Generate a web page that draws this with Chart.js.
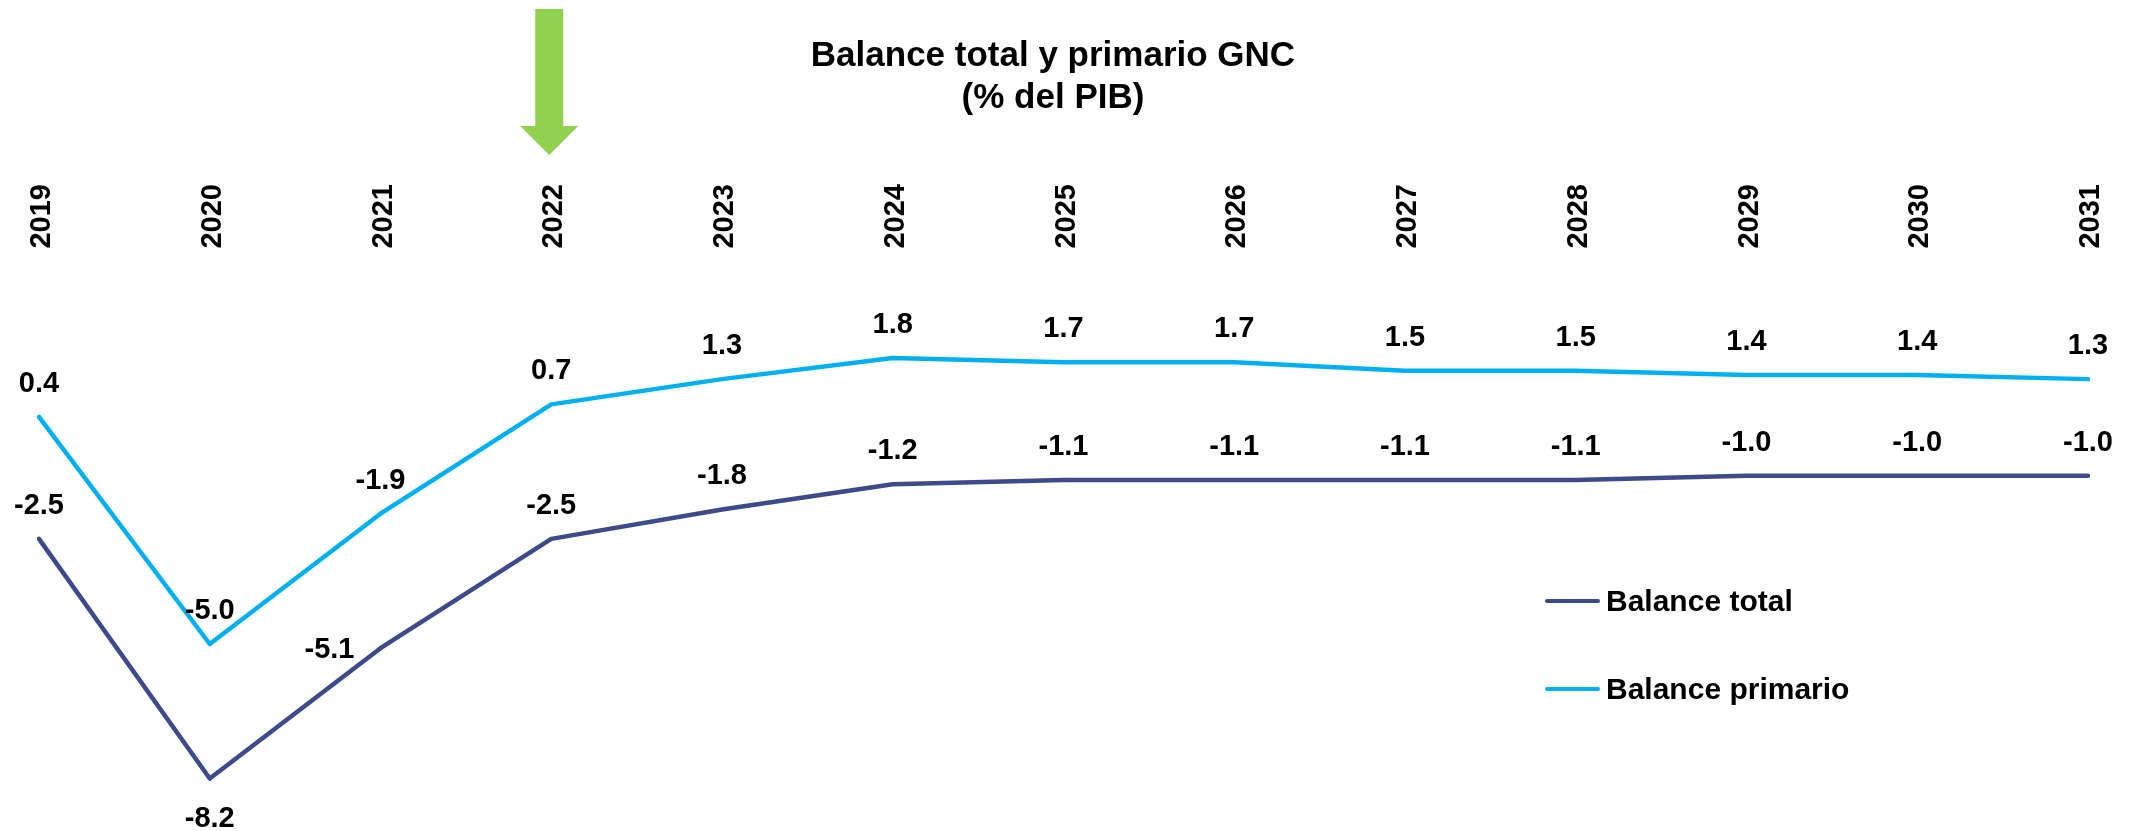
<!DOCTYPE html>
<html lang="es">
<head>
  <meta charset="UTF-8" />
  <title>Balance total y primario GNC</title>
  <script src="https://cdn.jsdelivr.net/npm/chart.js"></script>
  <style>
    body {
      margin: 0;
      padding: 0;
      background: white;
      font-family: "Liberation Sans", Arial, sans-serif;
    }
    .wrap {
      position: relative;
      width: 2136px;
      height: 831px;
    }
    .title {
      position: absolute;
      left: 0;
      top: 33px;
      width: 2106px;
      text-align: center;
      font-size: 35px;
      font-weight: bold;
      line-height: 42px;
      color: black;
    }
    .legend {
      position: absolute;
      left: 1545px;
      top: 580px;
      font-size: 30px;
      font-weight: bold;
      color: black;
    }
    .legend div {
      display: flex;
      align-items: center;
      height: 42px;
      margin-bottom: 46px;
    }
    .legend span.swatch {
      display: inline-block;
      width: 55px;
      height: 4.5px;
      border-radius: 3px;
      margin-right: 6px;
    }
  </style>
</head>
<body>

<div class="wrap">
  <canvas id="balanceChart"></canvas>
  <div class="title">Balance total y primario GNC<br>(% del PIB)</div>
  <div class="legend">
    <div><span class="swatch" style="background:#3D4A8C"></span>Balance total</div>
    <div><span class="swatch" style="background:#00B0F0"></span>Balance primario</div>
  </div>
</div>

<script>
const years = ["2019", "2020", "2021", "2022", "2023", "2024", "2025", "2026", "2027", "2028", "2029", "2030", "2031"];
const balanceTotal = [-2.5, -8.2, -5.1, -2.5, -1.8, -1.2, -1.1, -1.1, -1.1, -1.1, -1.0, -1.0, -1.0];
const balancePrimario = [0.4, -5.0, -1.9, 0.7, 1.3, 1.8, 1.7, 1.7, 1.5, 1.5, 1.4, 1.4, 1.3];
const markedYear = "2022";

// where each value label sits relative to its point
const totalLabelPos = ["top", "bottom", "left", "top", "top", "top", "top", "top", "top", "top", "top", "top", "top"];
const primarioLabelPos = years.map(() => "top");

const FONT = '"Liberation Sans", Arial, sans-serif';

const valueLabels = {
  id: "valueLabels",
  afterDatasetsDraw(chart) {
    const ctx = chart.ctx;
    ctx.save();
    ctx.font = "bold 29px " + FONT;
    ctx.fillStyle = "#000";
    ctx.textBaseline = "alphabetic";
    chart.data.datasets.forEach((ds, i) => {
      const meta = chart.getDatasetMeta(i);
      meta.data.forEach((pt, j) => {
        const txt = ds.data[j].toFixed(1);
        const pos = ds.labelPos[j];
        if (pos === "bottom") {
          ctx.textAlign = "center";
          ctx.fillText(txt, pt.x, pt.y + 48);
        } else if (pos === "left") {
          ctx.textAlign = "right";
          ctx.fillText(txt, pt.x - 26, pt.y + 10);
        } else {
          ctx.textAlign = "center";
          ctx.fillText(txt, pt.x, pt.y - 25);
        }
      });
    });
    ctx.restore();
  }
};

// green arrow pointing at the marked year
const yearArrow = {
  id: "yearArrow",
  afterDraw(chart) {
    const x = chart.scales.x.getPixelForValue(years.indexOf(markedYear)) - 2;
    const ctx = chart.ctx;
    ctx.save();
    ctx.fillStyle = "#92D050";
    ctx.beginPath();
    ctx.moveTo(x - 14, 9);
    ctx.lineTo(x + 14, 9);
    ctx.lineTo(x + 14, 126);
    ctx.lineTo(x + 29, 126);
    ctx.lineTo(x, 155);
    ctx.lineTo(x - 29, 126);
    ctx.lineTo(x - 14, 126);
    ctx.closePath();
    ctx.fill();
    ctx.restore();
  }
};

const ctx = document.getElementById("balanceChart").getContext("2d");
new Chart(ctx, {
  type: "line",
  data: {
    labels: years,
    datasets: [
      {
        label: "Balance total",
        data: balanceTotal,
        labelPos: totalLabelPos,
        borderColor: "#3D4A8C",
        borderWidth: 4.5,
        borderCapStyle: "round",
        borderJoinStyle: "round",
        pointRadius: 0,
        tension: 0,
        fill: false
      },
      {
        label: "Balance primario",
        data: balancePrimario,
        labelPos: primarioLabelPos,
        borderColor: "#00B0F0",
        borderWidth: 4.5,
        borderCapStyle: "round",
        borderJoinStyle: "round",
        pointRadius: 0,
        tension: 0,
        fill: false
      }
    ]
  },
  options: {
    responsive: true,
    maintainAspectRatio: false,
    animation: false,
    layout: { padding: { left: 39, right: 48, top: 0, bottom: 18.8 } },
    plugins: {
      legend: { display: false },
      tooltip: { enabled: false },
      title: { display: false }
    },
    scales: {
      x: {
        position: "top",
        offset: false,
        grid: { display: false, drawTicks: false },
        border: { display: false },
        ticks: {
          autoSkip: false,
          minRotation: 90,
          maxRotation: 90,
          padding: 17,
          labelOffset: 38,
          color: "#000",
          font: { family: FONT, size: 29, weight: "bold" }
        },
        afterFit(scale) {
          scale.height = 265.6;
          scale.paddingLeft = 0;
          scale.paddingRight = 0;
        }
      },
      y: {
        display: false,
        min: -9,
        max: 4
      }
    }
  },
  plugins: [valueLabels, yearArrow]
});
</script>

</body>
</html>
